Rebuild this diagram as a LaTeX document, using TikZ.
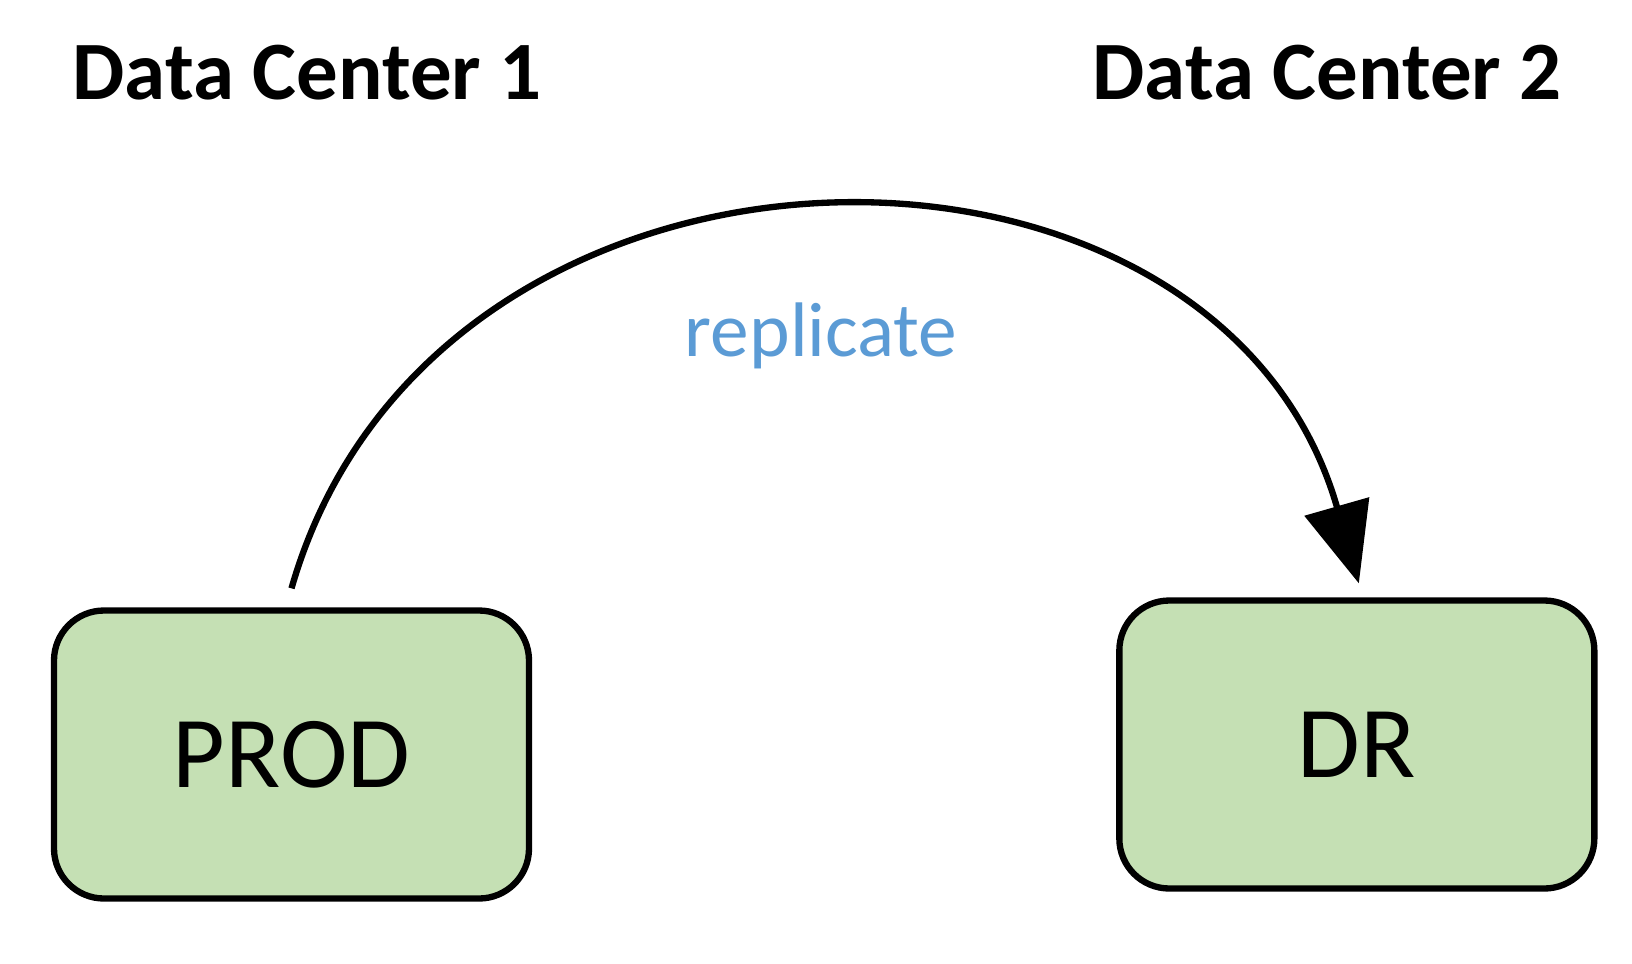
\documentclass[tikz,border=0pt]{standalone}
\usepackage{fontspec}
\setmainfont{Carlito}
\usepackage{tikz}
\usetikzlibrary{arrows.meta, calc, positioning}
\usepackage{xcolor}
\definecolor{boxgreen}{HTML}{C5E0B4}
\definecolor{repblue}{HTML}{5B9BD5}

\begin{document}
\begin{tikzpicture}[
    site/.style={rectangle, draw, line width=1.8pt, rounded corners=0.5cm, fill=boxgreen, minimum width=4.75cm, minimum height=2.88cm, align=center, font=\fontsize{29}{33}\selectfont},
    dctitle/.style={anchor=base west, inner sep=0pt, font=\fontsize{23.6}{27}\selectfont\bfseries},
    arrow/.style={-{Triangle[length=0.8cm, width=0.66cm]}, line width=1.8pt}
]
    \useasboundingbox (0,0) rectangle (16.32,9.63);

    % 两个数据中心
    \node[dctitle] (dc1) at (0.72,8.64) {Data Center 1};
    \node[dctitle] (dc2) at (10.92,8.64) {Data Center 2};

    % 主站与灾备
    \node[site] (prod) at (2.915,2.085) {PROD};
    \node[site, right=5.84cm of prod, yshift=0.1cm] (dr) {DR};

    % 复制
    \draw[arrow] ([yshift=0.19cm]prod.north) to[out=74, in=106, looseness=1.24]
        node[pos=0.5, xshift=-0.04cm, yshift=-1.24cm, text=repblue, font=\fontsize{22}{26}\selectfont] (rep) {replicate}
        ([xshift=0.02cm, yshift=0.14cm]dr.north);
\end{tikzpicture}
\end{document}
